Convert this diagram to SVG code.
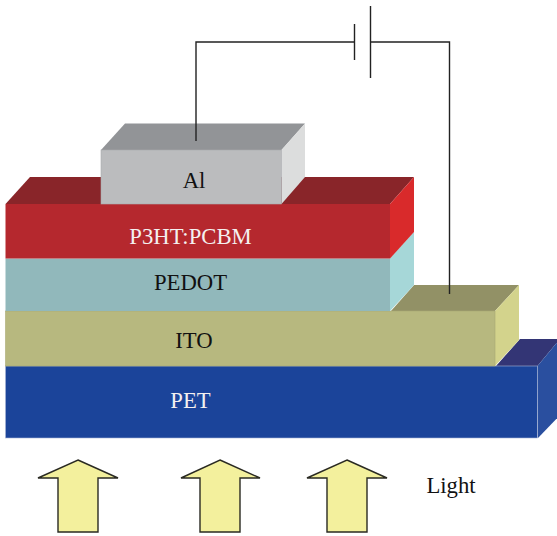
<svg xmlns="http://www.w3.org/2000/svg" width="557" height="536" viewBox="0 0 557 536">
<style>
text{font-family:"Liberation Serif","Times New Roman",serif;font-size:22.700px;text-anchor:middle;fill:#111}
text.w{fill:#f4f0f0}
.wire{fill:none;stroke:#222;stroke-width:1.4}
.arrow{fill:#f3f09d;stroke:#2a2a22;stroke-width:1.4;stroke-linejoin:miter}
</style>
<rect width="557" height="536" fill="#fff"/>
<g id="pet">
<polygon points="496,366 520,339 560,339 537.5,366" fill="#333575"/>
<polygon points="537.5,366 560,339 560,415 538,438" fill="#2a4f9f"/>
<rect x="5.500" y="366" width="532" height="72" fill="#1b449a" stroke="#a9b6d6" stroke-width=".6"/>
<text class="w" x="190.500" y="408">PET</text>
</g>
<g id="ito">
<polygon points="391,311 414,285 519,285 495,311" fill="#929166"/>
<polygon points="495,311 519,285 519,340 495,366" fill="#d3d38c"/>
<rect x="5.500" y="311" width="489.500" height="55" fill="#b7b87f" stroke="#a8a973" stroke-width=".6"/>
<text x="194" y="348">ITO</text>
</g>
<g id="pedot">
<polygon points="390,258 414,232 414,285 390,311" fill="#a6d7d8"/>
<rect x="5.500" y="258.500" width="384.500" height="52.500" fill="#91b8bb"/>
<text x="190.500" y="290">PEDOT</text>
</g>
<g id="p3ht">
<polygon points="5.500,204 30,177 414,177 390,204" fill="#892529"/>
<polygon points="390,204 414,177 414,232 390,258.500" fill="#d92a2b"/>
<rect x="5.500" y="204" width="384.500" height="54.500" fill="#b5282e"/>
<text class="w" x="190.500" y="244">P3HT:PCBM</text>
</g>
<g id="al">
<polygon points="101,150 125,123.500 305,123.500 281.500,150" fill="#929497"/>
<polygon points="281.500,150 305,123.500 305,177 281.500,204" fill="#dcdddd"/>
<rect x="101" y="150" width="180.500" height="54" fill="#bbbcbe" stroke="#a9aaad" stroke-width=".6"/>
<text x="194" y="188">Al</text>
</g>
<g id="connectors">
<path class="wire" d="M196 141V42H354.500M354.500 24V60M370.500 6V78M370.500 42H449.500V294"/>
</g>
<g id="light-arrows">
<polygon class="arrow" points="78,460 118,478 98,478 98,532 58,532 58,478 38,478"/>
<polygon class="arrow" points="220,460 260,478 240,478 240,532 200,532 200,478 181,478"/>
<polygon class="arrow" points="347,460 387,478 367,478 367,532 327,532 327,478 307,478"/>
</g>
<g id="light-label"><text x="451" y="493">Light</text></g>
</svg>
